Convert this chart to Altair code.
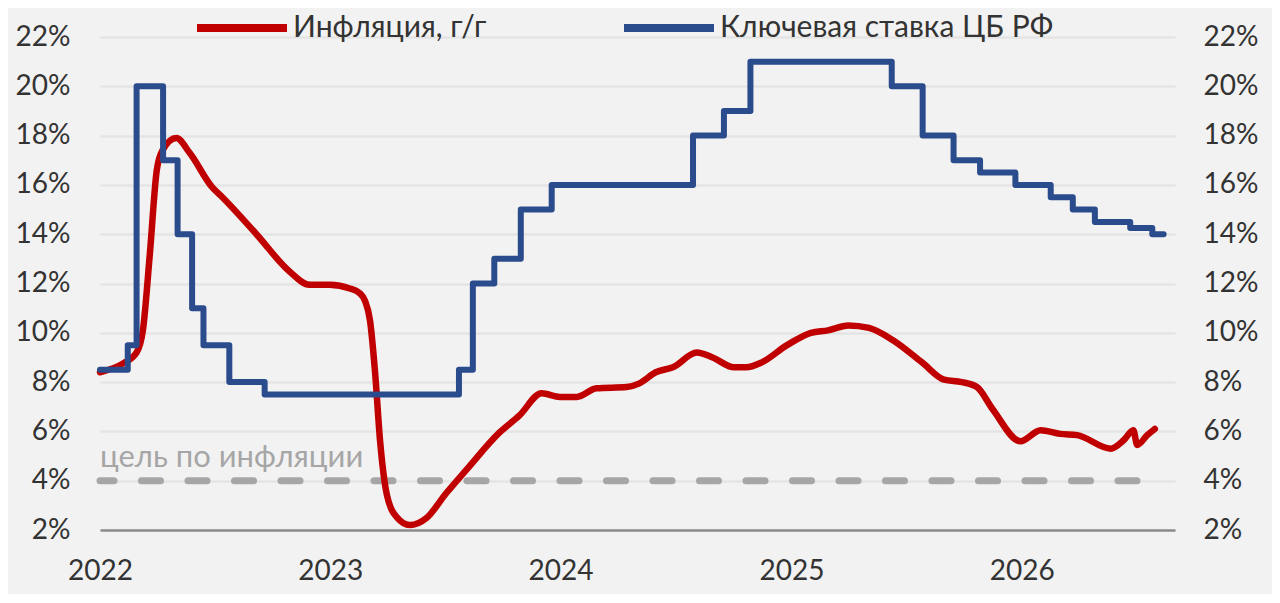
import altair as alt
import pandas as pd

FONT = "Lato"

SERIES = ["Инфляция, г/г", "Ключевая ставка ЦБ РФ"]
COLORS = ["#C00000", "#2B4C8C"]

infl_dates = [
    "2022-01-01", "2022-02-06", "2022-02-28", "2022-03-10", "2022-03-21", "2022-04-01",
    "2022-04-10", "2022-05-02", "2022-05-23", "2022-06-28", "2022-07-14", "2022-09-06",
    "2022-10-28", "2022-11-29", "2022-12-31", "2023-02-01", "2023-02-17", "2023-02-25",
    "2023-03-05", "2023-03-13", "2023-03-21", "2023-04-01", "2023-04-17", "2023-05-07",
    "2023-06-03", "2023-07-04", "2023-08-05", "2023-09-26", "2023-10-28", "2023-12-02",
    "2023-12-31", "2024-01-27", "2024-02-27", "2024-04-15", "2024-05-05", "2024-05-31",
    "2024-06-27", "2024-08-04", "2024-08-29", "2024-10-02", "2024-10-21", "2024-11-15",
    "2024-12-25", "2025-02-01", "2025-02-28", "2025-04-01", "2025-05-04", "2025-06-11",
    "2025-07-27", "2025-08-31", "2025-09-28", "2025-10-22", "2025-11-16", "2025-12-30",
    "2026-01-31", "2026-03-03", "2026-03-30", "2026-05-22", "2026-06-12", "2026-06-27",
    "2026-07-03", "2026-07-19", "2026-07-31",
]
infl_values = [
    8.4, 8.75, 9.2, 10.1, 13.2, 16.6,
    17.4, 17.9, 17.3, 15.9, 15.5, 14.0,
    12.5, 11.95, 11.95, 11.8, 11.6, 11.3,
    10.5, 8.4, 5.6, 3.4, 2.5, 2.2,
    2.5, 3.5, 4.45, 5.95, 6.65, 7.55,
    7.4, 7.4, 7.75, 7.8, 7.95, 8.4,
    8.6, 9.2, 9.0, 8.6, 8.6, 8.8,
    9.5, 10.0, 10.1, 10.3, 10.2, 9.7,
    8.8, 8.1, 8.0, 7.8, 6.9, 5.6,
    6.05, 5.9, 5.85, 5.3, 5.65, 6.05,
    5.45, 5.85, 6.1,
]

rate_dates = [
    "2022-01-01", "2022-02-14", "2022-02-28", "2022-04-11", "2022-05-04", "2022-05-27",
    "2022-06-14", "2022-07-25", "2022-09-19", "2023-07-24", "2023-08-15", "2023-09-18",
    "2023-10-30", "2023-12-18", "2024-07-29", "2024-09-16", "2024-10-28", "2025-06-09",
    "2025-07-28", "2025-09-15", "2025-10-27", "2025-12-22", "2026-02-16", "2026-03-23",
    "2026-04-27", "2026-06-22", "2026-07-27", "2026-08-14",
]
rate_values = [
    8.5, 9.5, 20, 17, 14, 11,
    9.5, 8, 7.5, 8.5, 12, 13,
    15, 16, 18, 19, 21, 20,
    18, 17, 16.5, 16, 15.5, 15,
    14.5, 14.25, 14, 14,
]

target_dates = ["2022-01-01", "2026-08-10"]
target_values = [4, 4]
target_label = "цель по инфляции"
target_label_date = ["2022-01-01"]
target_label_value = [4.56]

y_ticks = [2, 4, 6, 8, 10, 12, 14, 16, 18, 20, 22]
year_ticks = [2022, 2023, 2024, 2025, 2026]

infl = pd.DataFrame({"date": infl_dates, "value": infl_values, "series": SERIES[0]})
rate = pd.DataFrame({"date": rate_dates, "value": rate_values, "series": SERIES[1]})
target = pd.DataFrame({"date": target_dates, "value": target_values})
label_df = pd.DataFrame({"date": target_label_date, "value": target_label_value, "text": [target_label]})

x_enc = alt.X(
    "date:T",
    scale=alt.Scale(domain=[alt.DateTime(year=2022, month=1, date=1),
                            alt.DateTime(year=2026, month=9, date=1)]),
    axis=alt.Axis(
        values=[alt.DateTime(year=y, month=1, date=1) for y in year_ticks],
        format="%Y", labelFlush=False, grid=False, ticks=False,
        domainColor="#8C8C8C", domainWidth=2.5,
        labelFontSize=28, labelPadding=27, title=None,
    ),
)

y_scale = alt.Scale(domain=[2, 22], nice=False, zero=False)

def y_axis(orient, grid):
    return alt.Axis(
        orient=orient, values=y_ticks, labelExpr="datum.value + '%'",
        grid=grid, gridColor="#E4E4E4", gridWidth=2.5,
        domain=False, ticks=False, labelPadding=30 if orient == "left" else 28,
        labelFontSize=28, title=None,
    )

color_enc = alt.Color(
    "series:N",
    scale=alt.Scale(domain=SERIES, range=COLORS),
    legend=alt.Legend(
        title=None, orient="none", legendX=93, legendY=-58, direction="horizontal",
        symbolType="stroke", symbolSize=8100, symbolStrokeWidth=8,
        labelFontSize=30, labelFont=FONT, labelColor="#333333",
        columnPadding=121, labelOffset=2, padding=0, labelLimit=0,
    ),
)

target_layer = alt.Chart(target).mark_line(
    color="#A6A6A6", strokeWidth=7, strokeDash=[19, 27.5], strokeCap="round", strokeDashOffset=5
).encode(x=x_enc, y=alt.Y("value:Q", scale=y_scale, axis=None))

text_layer = alt.Chart(label_df).mark_text(
    align="left", baseline="alphabetic", fontSize=31, font=FONT, color="#A6A6A6"
).encode(x=x_enc, y=alt.Y("value:Q", scale=y_scale, axis=None), text="text:N")

infl_layer = alt.Chart(infl).mark_line(
    interpolate="monotone", strokeWidth=6.5, strokeCap="round", strokeJoin="round"
).encode(x=x_enc, y=alt.Y("value:Q", scale=y_scale, axis=y_axis("left", True)), color=color_enc)

rate_layer = alt.Chart(rate).mark_line(
    interpolate="step-after", strokeWidth=6, strokeCap="round", strokeJoin="round"
).encode(x=x_enc, y=alt.Y("value:Q", scale=y_scale, axis=y_axis("right", False)), color=color_enc)

chart = alt.layer(target_layer, text_layer, infl_layer, rate_layer).resolve_scale(
    y="independent"
).properties(
    width=1075, height=493,
    autosize=alt.AutoSizeParams(type="none"),
    padding={"left": 92, "top": 29, "right": 97, "bottom": 64},
    background="#F2F2F2",
).configure_view(stroke=None).configure_axis(
    labelFont=FONT, labelColor="#333333"
)

chart.save("out.html", embed_options={"renderer": "svg", "actions": False})
